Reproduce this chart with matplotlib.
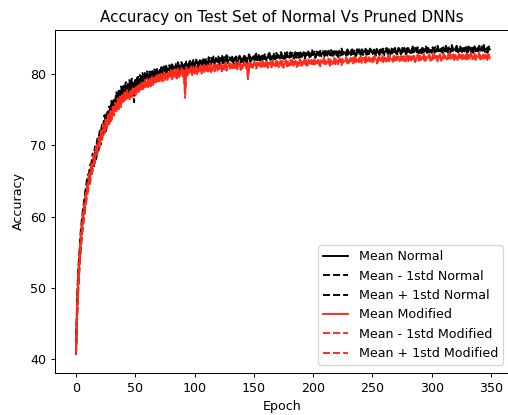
import matplotlib
matplotlib.use("Agg")
import matplotlib.pyplot as plt
import numpy as np

mean_normal = [
41.3, 47.5, 51.6, 54.3, 56.8, 58.6, 60.1, 61.4, 62.8, 63.9,
64.8, 65.2, 66.4, 66.6, 67.9, 67.7, 69.0, 68.8, 70.1, 70.0,
71.3, 70.9, 72.4, 72.0, 73.4, 72.6, 74.1, 73.6, 74.8, 74.0,
75.6, 74.9, 75.9, 75.5, 76.7, 75.8, 77.0, 76.4, 77.6, 76.7,
77.8, 77.2, 78.3, 77.5, 78.1, 78.6, 77.6, 78.9, 78.2, 76.9,
79.0, 78.4, 79.4, 78.5, 79.3, 79.0, 79.7, 78.8, 79.6, 79.3,
80.0, 79.2, 79.9, 79.6, 80.2, 79.4, 80.3, 79.8, 80.5, 79.7,
80.3, 80.0, 80.6, 79.9, 80.7, 80.2, 80.8, 80.3, 80.6, 80.9,
80.2, 81.0, 80.5, 80.8, 81.1, 80.4, 81.2, 80.7, 80.9, 81.3,
80.6, 81.2, 80.8, 81.4, 80.9, 81.0, 81.5, 80.8, 81.3, 81.6,
81.0, 81.5, 81.7, 81.1, 81.4, 81.8, 81.2, 81.6, 81.9, 81.3,
81.7, 81.5, 82.0, 81.4, 81.8, 81.6, 82.1, 81.5, 81.9, 81.7,
82.1, 81.6, 81.9, 82.2, 81.7, 82.0, 81.8, 82.3, 81.7, 82.0,
81.9, 81.8, 82.2, 81.7, 81.9, 82.1, 81.6, 82.0, 82.2, 81.8,
82.1, 81.9, 82.3, 82.0, 81.8, 82.2, 82.4, 81.9, 82.1, 82.3,
82.0, 82.2, 82.5, 81.9, 82.3, 82.1, 82.4, 82.2, 82.0, 82.5,
82.3, 82.1, 82.4, 82.6, 82.2, 82.4, 82.0, 82.5, 82.3, 82.6,
82.2, 82.5, 82.4, 82.7, 82.3, 82.1, 82.6, 82.4, 82.7, 82.3,
82.5, 82.8, 82.4, 82.6, 82.3, 82.7, 82.5, 82.9, 82.4, 82.6,
82.8, 82.5, 82.7, 82.4, 82.9, 82.6, 82.8, 82.5, 82.7, 83.0,
82.6, 82.8, 82.5, 82.9, 82.7, 82.6, 83.0, 82.7, 82.9, 82.6,
82.8, 83.1, 82.7, 82.9, 82.6, 83.0, 82.8, 82.7, 83.1, 82.8,
82.9, 82.6, 83.0, 82.8, 83.2, 82.7, 82.9, 83.0, 82.8, 83.1,
82.7, 83.0, 82.9, 83.2, 82.8, 83.0, 82.7, 83.1, 82.9, 83.2,
82.8, 83.1, 82.9, 83.0, 83.3, 82.8, 83.1, 82.9, 83.2, 83.0,
82.9, 83.2, 83.0, 82.8, 83.3, 83.1, 82.9, 83.2, 83.0, 83.3,
82.9, 83.1, 83.4, 83.0, 83.2, 82.9, 83.3, 83.1, 83.0, 83.4,
83.1, 82.9, 83.3, 83.2, 83.0, 83.4, 83.1, 83.3, 82.9, 83.2,
83.4, 83.0, 83.2, 83.1, 83.5, 83.0, 83.3, 83.2, 83.4, 83.1,
83.3, 83.0, 83.4, 83.2, 83.1, 83.5, 83.2, 83.4, 83.0, 83.3,
83.2, 83.5, 83.1, 83.4, 83.3, 83.6, 83.1, 83.3, 83.5, 83.2,
83.4, 83.1, 83.6, 83.3, 83.2, 83.5, 83.3, 83.7, 83.2, 83.4,
83.3, 83.6, 83.2, 83.4, 83.5, 83.1, 83.4, 83.6, 83.3, 83.5,
83.2, 83.5, 83.7, 83.3, 83.4, 83.2, 83.6, 83.4, 83.5, 83.3,
83.6, 83.2, 83.5, 83.4, 83.7, 83.3, 83.5, 83.2, 83.6, 83.4,
]

mean_modified = [
41.0, 47.0, 51.2, 54.0, 56.4, 58.3, 59.8, 61.0, 62.2, 63.3,
64.3, 65.1, 65.5, 66.7, 67.0, 67.9, 68.2, 69.3, 69.4, 70.4,
70.3, 71.4, 71.2, 72.3, 72.0, 73.1, 72.8, 73.8, 73.4, 74.4,
74.0, 75.0, 74.6, 75.5, 75.1, 76.0, 75.4, 76.4, 75.7, 76.7,
76.2, 77.0, 76.4, 77.3, 76.8, 76.6, 77.5, 77.0, 77.8, 77.2,
77.9, 77.4, 78.2, 77.6, 78.4, 77.8, 78.6, 78.0, 78.8, 78.2,
78.9, 78.4, 79.1, 78.5, 79.2, 78.7, 79.3, 78.9, 79.5, 79.0,
79.6, 79.1, 79.7, 79.2, 79.8, 79.4, 79.9, 79.3, 80.0, 79.6,
80.1, 79.5, 80.2, 79.8, 80.3, 79.6, 80.4, 79.9, 80.2, 80.5,
79.9, 80.4, 77.2, 80.6, 80.0, 80.5, 80.2, 80.7, 80.1, 80.6,
80.3, 80.8, 80.2, 80.7, 80.4, 80.9, 80.3, 80.8, 80.5, 81.0,
80.4, 80.9, 80.6, 81.1, 80.5, 80.8, 81.0, 80.6, 81.2, 80.7,
81.0, 80.8, 81.2, 80.6, 81.1, 80.9, 81.3, 80.7, 81.0, 81.2,
80.9, 81.1, 81.3, 80.8, 81.0, 81.2, 80.9, 81.3, 81.1, 80.8,
81.2, 81.0, 81.3, 81.1, 81.4, 79.6, 81.2, 81.0, 81.3, 81.1,
81.4, 81.2, 81.0, 81.3, 81.5, 81.1, 81.3, 81.2, 81.5, 81.0,
81.3, 81.4, 81.1, 81.5, 81.3, 81.2, 81.6, 81.3, 81.1, 81.5,
81.4, 81.2, 81.6, 81.3, 81.5, 81.1, 81.4, 81.6, 81.3, 81.5,
81.2, 81.6, 81.4, 81.7, 81.3, 81.5, 81.2, 81.6, 81.4, 81.7,
81.3, 81.5, 81.8, 81.4, 81.6, 81.3, 81.7, 81.5, 81.4, 81.8,
81.5, 81.7, 81.4, 81.6, 81.8, 81.5, 81.3, 81.7, 81.6, 81.9,
81.5, 81.7, 81.6, 81.9, 81.4, 81.8, 81.6, 81.7, 81.9, 81.5,
81.8, 81.6, 82.0, 81.7, 81.5, 81.9, 81.7, 81.8, 82.0, 81.6,
81.8, 82.0, 81.7, 81.9, 81.6, 82.1, 81.8, 81.7, 82.0, 81.8,
82.1, 81.7, 81.9, 82.0, 81.8, 82.2, 81.7, 82.0, 81.9, 82.1,
81.8, 82.0, 82.2, 81.9, 81.7, 82.1, 82.0, 81.8, 82.2, 81.9,
82.1, 81.8, 82.0, 82.3, 81.9, 82.1, 82.0, 81.8, 82.2, 82.0,
82.3, 81.9, 82.1, 82.0, 82.4, 81.9, 82.2, 82.1, 81.9, 82.3,
82.0, 82.2, 82.4, 82.0, 82.1, 82.3, 81.9, 82.2, 82.4, 82.1,
82.3, 82.0, 82.2, 82.5, 82.1, 82.0, 82.3, 82.2, 82.4, 82.0,
82.2, 82.4, 82.1, 82.3, 82.5, 82.0, 82.2, 82.4, 82.1, 82.3,
82.5, 82.1, 82.3, 82.2, 82.4, 82.6, 82.1, 82.3, 82.5, 82.2,
82.4, 82.1, 82.3, 82.6, 82.2, 82.4, 82.3, 82.5, 82.1, 82.4,
82.2, 82.5, 82.3, 82.6, 82.2, 82.4, 82.5, 82.1, 82.4, 82.3,
82.6, 82.2, 82.4, 82.5, 82.1, 82.3, 82.6, 82.2, 82.5, 82.3,
]

std_normal = [
0.6, 1.4, 1.3, 1.2, 1.2, 1.1, 1.1, 1.0, 1.0, 1.0,
1.0, 0.9, 0.9, 0.9, 0.9, 0.8, 0.8, 0.8, 0.8, 0.8,
0.7, 0.8, 0.7, 0.7, 0.8, 0.7, 0.7, 0.7, 0.6, 0.7,
0.6, 0.7, 0.6, 0.6, 0.7, 0.6, 0.6, 0.5, 0.6, 0.5,
0.5, 0.6, 0.5, 0.5, 0.6, 0.5, 0.5, 0.4, 0.5, 0.9,
0.4, 0.5, 0.4, 0.4, 0.5, 0.4, 0.4, 0.4, 0.5, 0.4,
0.3, 0.4, 0.4, 0.3, 0.4, 0.4, 0.3, 0.4, 0.4, 0.3,
0.3, 0.4, 0.3, 0.3, 0.3, 0.4, 0.3, 0.3, 0.4, 0.3,
0.3, 0.3, 0.4, 0.3, 0.3, 0.3, 0.4, 0.3, 0.3, 0.3,
0.4, 0.3, 0.3, 0.3, 0.3, 0.4, 0.3, 0.3, 0.3, 0.3,
0.3, 0.3, 0.4, 0.3, 0.3, 0.3, 0.3, 0.3, 0.4, 0.3,
0.3, 0.3, 0.3, 0.3, 0.4, 0.3, 0.3, 0.3, 0.3, 0.2,
0.3, 0.3, 0.3, 0.4, 0.3, 0.3, 0.2, 0.3, 0.3, 0.3,
0.3, 0.2, 0.3, 0.3, 0.3, 0.3, 0.3, 0.2, 0.3, 0.3,
0.3, 0.3, 0.2, 0.3, 0.3, 0.3, 0.3, 0.3, 0.2, 0.3,
0.3, 0.3, 0.3, 0.2, 0.3, 0.3, 0.3, 0.3, 0.3, 0.2,
0.3, 0.3, 0.2, 0.3, 0.3, 0.3, 0.2, 0.3, 0.3, 0.3,
0.2, 0.3, 0.3, 0.3, 0.2, 0.3, 0.3, 0.2, 0.3, 0.3,
0.3, 0.2, 0.3, 0.3, 0.2, 0.3, 0.3, 0.3, 0.2, 0.3,
0.3, 0.2, 0.3, 0.3, 0.2, 0.3, 0.3, 0.2, 0.3, 0.3,
0.2, 0.3, 0.3, 0.2, 0.3, 0.3, 0.2, 0.3, 0.3, 0.2,
0.3, 0.3, 0.2, 0.3, 0.2, 0.3, 0.3, 0.2, 0.3, 0.3,
0.2, 0.3, 0.2, 0.3, 0.3, 0.2, 0.3, 0.2, 0.3, 0.3,
0.2, 0.3, 0.3, 0.2, 0.3, 0.2, 0.3, 0.3, 0.2, 0.3,
0.2, 0.3, 0.3, 0.2, 0.3, 0.2, 0.3, 0.2, 0.3, 0.3,
0.2, 0.3, 0.2, 0.3, 0.3, 0.2, 0.3, 0.2, 0.3, 0.2,
0.3, 0.3, 0.2, 0.3, 0.2, 0.3, 0.2, 0.3, 0.3, 0.2,
0.3, 0.2, 0.3, 0.2, 0.3, 0.3, 0.2, 0.3, 0.2, 0.3,
0.2, 0.3, 0.3, 0.2, 0.3, 0.2, 0.3, 0.2, 0.3, 0.3,
0.2, 0.3, 0.2, 0.3, 0.2, 0.3, 0.3, 0.2, 0.3, 0.2,
0.3, 0.2, 0.3, 0.3, 0.2, 0.3, 0.2, 0.3, 0.2, 0.3,
0.3, 0.2, 0.3, 0.2, 0.3, 0.2, 0.3, 0.3, 0.2, 0.3,
0.2, 0.3, 0.2, 0.3, 0.3, 0.2, 0.3, 0.2, 0.3, 0.2,
0.3, 0.3, 0.2, 0.3, 0.2, 0.3, 0.2, 0.3, 0.3, 0.2,
0.3, 0.2, 0.3, 0.2, 0.3, 0.3, 0.2, 0.3, 0.2, 0.3,
]

std_modified = [
0.4, 1.3, 1.3, 1.2, 1.1, 1.1, 1.0, 0.9, 0.9, 0.9,
0.8, 0.8, 0.8, 0.7, 0.7, 0.7, 0.7, 0.6, 0.6, 0.6,
0.6, 0.6, 0.5, 0.6, 0.5, 0.5, 0.5, 0.5, 0.5, 0.4,
0.5, 0.4, 0.5, 0.4, 0.4, 0.5, 0.4, 0.4, 0.4, 0.3,
0.4, 0.4, 0.3, 0.4, 0.3, 0.4, 0.3, 0.3, 0.4, 0.3,
0.4, 0.3, 0.3, 0.4, 0.3, 0.3, 0.4, 0.3, 0.3, 0.3,
0.4, 0.3, 0.3, 0.3, 0.4, 0.3, 0.3, 0.3, 0.3, 0.4,
0.3, 0.3, 0.3, 0.3, 0.4, 0.3, 0.3, 0.3, 0.3, 0.3,
0.4, 0.3, 0.3, 0.3, 0.3, 0.3, 0.3, 0.4, 0.3, 0.3,
0.3, 0.3, 0.6, 0.3, 0.3, 0.3, 0.3, 0.3, 0.3, 0.3,
0.3, 0.3, 0.3, 0.2, 0.3, 0.3, 0.3, 0.3, 0.3, 0.3,
0.2, 0.3, 0.3, 0.3, 0.3, 0.3, 0.2, 0.3, 0.3, 0.3,
0.3, 0.2, 0.3, 0.3, 0.3, 0.3, 0.2, 0.3, 0.3, 0.3,
0.2, 0.3, 0.3, 0.3, 0.2, 0.3, 0.3, 0.3, 0.2, 0.3,
0.3, 0.2, 0.3, 0.3, 0.3, 0.4, 0.3, 0.2, 0.3, 0.3,
0.2, 0.3, 0.3, 0.3, 0.2, 0.3, 0.3, 0.2, 0.3, 0.3,
0.3, 0.2, 0.3, 0.3, 0.2, 0.3, 0.3, 0.2, 0.3, 0.3,
0.2, 0.3, 0.3, 0.2, 0.3, 0.3, 0.2, 0.3, 0.3, 0.2,
0.3, 0.3, 0.2, 0.3, 0.2, 0.3, 0.3, 0.2, 0.3, 0.3,
0.2, 0.3, 0.2, 0.3, 0.3, 0.2, 0.3, 0.2, 0.3, 0.3,
0.2, 0.3, 0.3, 0.2, 0.3, 0.2, 0.3, 0.3, 0.2, 0.3,
0.2, 0.3, 0.3, 0.2, 0.3, 0.2, 0.3, 0.2, 0.3, 0.3,
0.2, 0.3, 0.2, 0.3, 0.3, 0.2, 0.3, 0.2, 0.3, 0.2,
0.3, 0.3, 0.2, 0.3, 0.2, 0.3, 0.2, 0.3, 0.3, 0.2,
0.3, 0.2, 0.3, 0.2, 0.3, 0.3, 0.2, 0.3, 0.2, 0.3,
0.2, 0.3, 0.3, 0.2, 0.3, 0.2, 0.3, 0.2, 0.3, 0.3,
0.2, 0.3, 0.2, 0.3, 0.2, 0.3, 0.3, 0.2, 0.3, 0.2,
0.3, 0.2, 0.3, 0.3, 0.2, 0.3, 0.2, 0.3, 0.2, 0.3,
0.3, 0.2, 0.3, 0.2, 0.3, 0.2, 0.3, 0.3, 0.2, 0.3,
0.2, 0.3, 0.2, 0.3, 0.3, 0.2, 0.3, 0.2, 0.3, 0.2,
0.3, 0.3, 0.2, 0.3, 0.2, 0.3, 0.2, 0.3, 0.3, 0.2,
0.3, 0.2, 0.3, 0.2, 0.3, 0.3, 0.2, 0.3, 0.2, 0.3,
0.2, 0.3, 0.3, 0.2, 0.3, 0.2, 0.3, 0.2, 0.3, 0.3,
0.2, 0.3, 0.2, 0.3, 0.2, 0.3, 0.3, 0.2, 0.3, 0.2,
0.3, 0.2, 0.3, 0.3, 0.2, 0.3, 0.2, 0.3, 0.2, 0.3,
]

title = "Accuracy on Test Set of Normal Vs Pruned DNNs"
xlabel = "Epoch"
ylabel = "Accuracy"
labels = ["Mean Normal", "Mean - 1std Normal", "Mean + 1std Normal",
          "Mean Modified", "Mean - 1std Modified", "Mean + 1std Modified"]

mn = np.array(mean_normal)
mm = np.array(mean_modified)
sn = np.array(std_normal)
sm = np.array(std_modified)
epochs = np.arange(len(mn))

DPI = 91
W, H = 508, 415
fig = plt.figure(figsize=(W / DPI, H / DPI), dpi=DPI)
ax_left, ax_bottom, ax_w, ax_h = 55, 42, 454, 343
ax = fig.add_axes([ax_left / W, ax_bottom / H, ax_w / W, ax_h / H])

red = "#ff2a1a"
ax.plot(epochs, mn, color="black", label=labels[0])
ax.plot(epochs, mn - sn, color="black", linestyle="--", label=labels[1])
ax.plot(epochs, mn + sn, color="black", linestyle="--", label=labels[2])
ax.plot(epochs, mm, color=red, label=labels[3])
ax.plot(epochs, mm - sm, color=red, linestyle="--", label=labels[4])
ax.plot(epochs, mm + sm, color=red, linestyle="--", label=labels[5])

px_per_epoch = 415.0 / 350.0
x0 = -(76 - ax_left) / px_per_epoch
ax.set_xlim(x0, x0 + ax_w / px_per_epoch)
ax.set_ylim(38.1, 86.1)
ax.set_xticks([0, 50, 100, 150, 200, 250, 300, 350])
ax.set_yticks([40, 50, 60, 70, 80])
ax.set_title(title)
ax.set_xlabel(xlabel)
ax.set_ylabel(ylabel)
ax.legend(loc="lower right", borderaxespad=0,
          bbox_to_anchor=((503 - ax_left) / ax_w, (373 - 365) / ax_h))

fig.savefig("out.png", dpi=DPI)
